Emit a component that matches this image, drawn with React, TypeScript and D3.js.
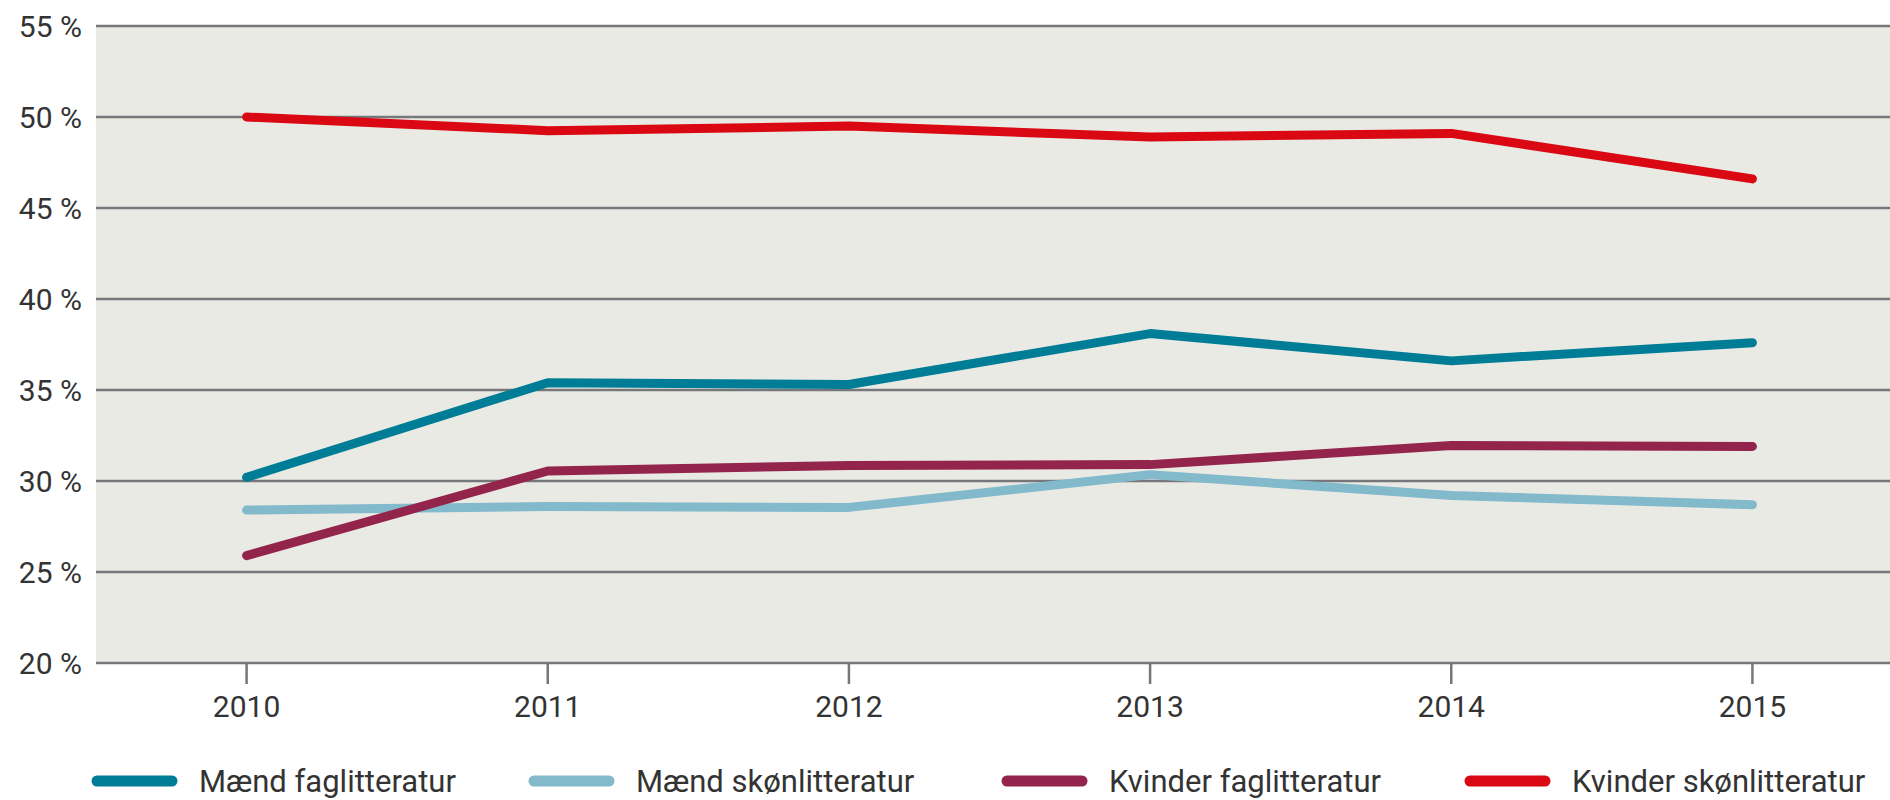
import React from "react";
import * as d3 from "d3";

const years = ["2010", "2011", "2012", "2013", "2014", "2015"];
const yTicks = [20, 25, 30, 35, 40, 45, 50, 55];

const maendFag = [30.2, 35.4, 35.3, 38.1, 36.6, 37.6];
const maendSkon = [28.4, 28.6, 28.55, 30.35, 29.2, 28.7];
const kvinderFag = [25.9, 30.55, 30.85, 30.9, 31.95, 31.9];
const kvinderSkon = [50.0, 49.25, 49.5, 48.9, 49.1, 46.6];

const seriesNames = [
  "Mænd faglitteratur",
  "Mænd skønlitteratur",
  "Kvinder faglitteratur",
  "Kvinder skønlitteratur",
];
const seriesValues = [maendFag, maendSkon, kvinderFag, kvinderSkon];
const colors = ["#007d96", "#82b9cb", "#93244b", "#d90812"];

export default function App() {
  const width = 1890,
    height = 800;
  const left = 96,
    top = 26,
    bottom = 663;

  const x = d3.scalePoint().domain(years).range([left, 1903]).padding(0.5);
  const y = d3.scaleLinear().domain([20, 55]).range([bottom, top]);

  const line = d3
    .line<number>()
    .x((_, i) => x(years[i]) as number)
    .y((d) => y(d));

  const grid = "#76777a";
  const textColor = "#333333";
  const font = "Roboto, 'Noto Sans', sans-serif";

  // legend layout: swatch start x for each item
  const legendX = [91, 528, 1001, 1464];

  return (
    <svg
      width={width}
      height={height}
      style={{ position: "absolute", left: 0, top: 0, background: "#fff" }}
      fontFamily={font}
    >
      <rect x={left} y={top} width={width - left} height={bottom - top} fill="#eaeae5" />

      {yTicks.map((t) => (
        <g key={t}>
          <line x1={left} x2={width} y1={y(t)} y2={y(t)} stroke={grid} strokeWidth={2.5} />
          <text
            x={82}
            y={y(t)}
            dy="0.36em"
            textAnchor="end"
            fontSize={30}
            fill={textColor}
          >
            {t} %
          </text>
        </g>
      ))}

      {years.map((yr) => (
        <g key={yr}>
          <line
            x1={x(yr)}
            x2={x(yr)}
            y1={bottom}
            y2={684}
            stroke={grid}
            strokeWidth={2.5}
          />
          <text x={x(yr)} y={717} textAnchor="middle" fontSize={30} fill={textColor}>
            {yr}
          </text>
        </g>
      ))}

      {seriesValues.map((vals, i) => (
        <path
          key={seriesNames[i]}
          d={line(vals) || ""}
          fill="none"
          stroke={colors[i]}
          strokeWidth={9}
          strokeLinecap="round"
          strokeLinejoin="round"
        />
      ))}

      {seriesNames.map((name, i) => (
        <g key={name} transform={`translate(${legendX[i]},781)`}>
          <line
            x1={6}
            x2={81}
            y1={0}
            y2={0}
            stroke={colors[i]}
            strokeWidth={11}
            strokeLinecap="round"
          />
          <text x={108} y={11} fontSize={31} fill={textColor}>
            {name}
          </text>
        </g>
      ))}
    </svg>
  );
}
